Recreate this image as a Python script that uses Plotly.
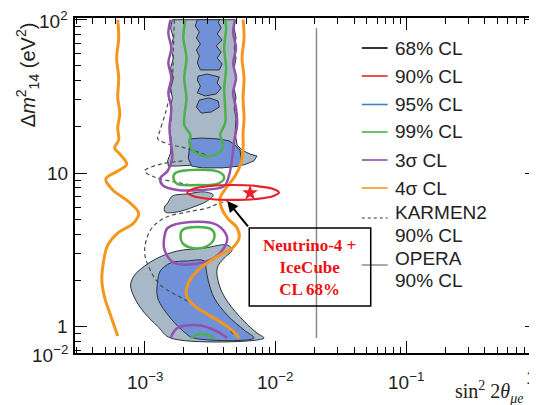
import math
import plotly.graph_objects as go

# ---------------- data (sin^2 2theta_mue , dm^2_14 [eV^2]) ----------------
grey_upper_x = [1.63e-3, 1.58e-3, 1.66e-3, 1.58e-3, 1.66e-3, 1.58e-3, 1.66e-3, 1.58e-3, 1.63e-3, 1.58e-3,
                1.60e-3, 1.55e-3, 1.60e-3, 1.58e-3, 1.50e-3, 1.52e-3,
                1.78e-3, 2.53e-3, 3.59e-3, 4.67e-3, 5.76e-3,
                6.86e-3, 7.23e-3, 6.40e-3, 5.56e-3, 5.10e-3,
                4.92e-3, 5.00e-3, 4.84e-3, 5.00e-3, 4.84e-3, 5.00e-3, 4.84e-3, 5.00e-3, 4.84e-3, 5.00e-3, 4.84e-3, 4.92e-3]
grey_upper_y = [100, 88.3, 76.0, 65.3, 56.3, 48.4, 41.7, 35.8, 30.9, 26.5,
                22.8, 19.7, 16.2, 13.5, 12.0, 11.1,
                11.1, 11.3, 11.3, 11.1, 11.3,
                12.0, 12.9, 13.3, 14.1, 15.2,
                18.2, 22.8, 26.5, 30.9, 35.8, 41.7, 48.4, 56.3, 65.3, 76.0, 88.3, 100]

grey_blob_x = [1.50e-3, 1.63e-3, 2.12e-3, 2.86e-3, 3.35e-3, 3.01e-3, 2.36e-3, 1.78e-3, 1.44e-3, 1.42e-3]
grey_blob_y = [6.37, 7.08, 7.30, 7.53, 7.19, 6.57, 6.00, 5.57, 5.57, 6.00]

grey_lower_x = [1.58e-3, 1.26e-3, 1.00e-3, 8.39e-4, 7.82e-4, 8.39e-4, 1.00e-3, 1.26e-3, 1.78e-3, 2.86e-3,
                4.28e-3, 4.67e-3, 4.06e-3, 3.59e-3, 3.72e-3, 4.28e-3, 5.76e-3, 7.23e-3, 8.18e-3]
grey_lower_y = [0.839, 1.0, 1.22, 1.53, 1.86, 2.16, 2.47, 2.79, 3.10, 3.24,
                3.39, 3.15, 2.79, 2.40, 1.86, 1.46, 1.08, 0.904, 0.839]

blue_top_x = [2.53e-3, 2.44e-3, 2.62e-3, 2.49e-3, 2.67e-3, 2.49e-3, 2.62e-3, 2.53e-3, 2.67e-3,
              3.72e-3, 3.92e-3, 3.59e-3, 3.85e-3, 3.53e-3, 3.92e-3, 3.59e-3, 3.85e-3, 3.65e-3, 3.78e-3]
blue_top_y = [100, 91.0, 83.1, 76.0, 69.4, 63.4, 58.0, 52.2, 47.0,
              47.0, 51.4, 56.3, 61.5, 67.4, 73.7, 80.7, 88.3, 96.6, 100]

blue_mid_x = [2.57e-3, 3.01e-3, 3.72e-3, 3.59e-3, 3.85e-3, 3.53e-3, 2.91e-3, 2.53e-3, 2.67e-3, 2.53e-3]
blue_mid_y = [42.9, 44.2, 42.3, 38.6, 35.8, 32.8, 31.8, 33.3, 36.9, 40.4]

blue_low_piece_x = [2.62e-3, 3.12e-3, 3.65e-3, 3.72e-3, 3.23e-3, 2.71e-3, 2.49e-3]
blue_low_piece_y = [29.9, 30.9, 29.5, 26.9, 25.0, 24.6, 26.9]

blue_block_x = [2.20e-3, 2.76e-3, 3.59e-3, 4.43e-3, 4.92e-3, 5.37e-3, 5.46e-3, 5.37e-3, 3.92e-3, 2.76e-3, 2.28e-3, 2.16e-3, 2.20e-3]
blue_block_y = [16.7, 16.9, 16.7, 16.2, 15.2, 14.1, 12.5, 11.1, 10.8, 10.8, 11.1, 12.5, 14.6]

blue_lower_x = [1.26e-3, 1.32e-3, 1.58e-3, 2.12e-3, 2.86e-3, 2.96e-3, 3.07e-3, 3.41e-3, 4.28e-3, 5.76e-3,
                6.86e-3, 2.36e-3, 2.05e-3, 1.58e-3, 1.26e-3]
blue_lower_y = [1.98, 2.30, 2.59, 2.67, 2.67, 2.33, 1.98, 1.53, 1.185, 0.946,
                0.839, 0.839, 0.904, 1.13, 1.53]

purple_upper_x = [1.58e-3, 1.52e-3, 1.60e-3, 1.52e-3, 1.60e-3, 1.52e-3, 1.60e-3, 1.55e-3, 1.58e-3, 1.63e-3,
                  1.50e-3, 1.32e-3, 1.37e-3, 1.78e-3, 2.67e-3, 4.06e-3, 4.43e-3, 4.67e-3, 4.84e-3, 5.10e-3,
                  5.00e-3, 4.75e-3, 5.00e-3, 4.75e-3, 5.00e-3, 4.75e-3, 4.92e-3]
purple_upper_y = [100, 81.9, 65.3, 52.2, 41.7, 33.3, 26.5, 19.7, 16.2, 12.5,
                  10.3, 9.28, 8.35, 7.75, 7.75, 8.23, 9.70, 12.5, 16.2, 20.6,
                  26.5, 33.3, 41.7, 52.2, 65.3, 81.9, 100]

purple_loop_x = [1.50e-3, 2.24e-3, 3.59e-3, 4.28e-3, 3.78e-3, 2.86e-3, 1.69e-3, 1.42e-3, 1.42e-3, 1.50e-3]
purple_loop_y = [4.38, 4.79, 4.58, 3.77, 3.01, 2.63, 2.59, 3.15, 3.88, 4.38]

purple_bottom_x = [1.58e-3, 1.78e-3, 2.32e-3, 2.86e-3, 3.78e-3, 4.28e-3]
purple_bottom_y = [0.839, 0.975, 1.02, 1.0, 0.904, 0.839]

green_upper_x = [2.05e-3, 1.98e-3, 2.09e-3, 2.01e-3, 2.09e-3, 2.05e-3, 2.01e-3, 2.24e-3, 2.20e-3, 2.36e-3,
                 2.91e-3, 3.59e-3, 3.99e-3, 3.78e-3, 4.13e-3, 4.13e-3, 4.06e-3, 4.20e-3, 4.06e-3, 4.20e-3, 4.13e-3]
green_upper_y = [100, 76.0, 56.3, 41.7, 30.9, 26.5, 20.6, 17.7, 15.7, 13.9,
                 12.9, 13.3, 15.2, 17.7, 21.2, 26.5, 35.8, 48.4, 65.3, 88.3, 100]

green_loop1_x = [1.72e-3, 2.53e-3, 3.72e-3, 4.06e-3, 3.59e-3, 2.53e-3, 1.78e-3, 1.66e-3, 1.72e-3]
green_loop1_y = [10.0, 10.5, 10.15, 9.28, 8.48, 8.35, 8.48, 9.28, 10.0]

green_loop2_x = [1.95e-3, 2.53e-3, 3.29e-3, 3.41e-3, 3.01e-3, 2.32e-3, 1.95e-3, 1.88e-3, 1.95e-3]
green_loop2_y = [4.25, 4.44, 4.25, 3.77, 3.34, 3.24, 3.49, 3.88, 4.25]

green_bottom_x = [2.24e-3, 2.67e-3, 3.18e-3, 3.41e-3]
green_bottom_y = [0.839, 0.891, 0.865, 0.839]

orange_left_x = [6.23e-4, 6.34e-4, 6.12e-4, 6.34e-4, 6.23e-4, 6.46e-4, 6.23e-4, 6.34e-4, 5.91e-4, 6.57e-4,
                 7.30e-4, 6.23e-4, 5.05e-4, 5.71e-4, 7.43e-4, 9.00e-4, 8.25e-4, 6.23e-4, 5.23e-4, 4.88e-4,
                 4.71e-4, 4.96e-4, 5.42e-4, 6.23e-4]
orange_left_y = [100, 76.0, 56.3, 41.7, 30.9, 24.6, 19.7, 16.4, 14.6, 13.1,
                 11.4, 10.3, 9.14, 7.75, 6.57, 5.48, 4.72, 4.06, 3.39, 2.71,
                 2.00, 1.53, 1.22, 0.865]

orange_right_x = [5.66e-3, 5.76e-3, 5.56e-3, 5.76e-3, 5.66e-3, 5.76e-3, 5.66e-3, 5.66e-3, 5.46e-3, 4.92e-3,
                  4.20e-3, 3.78e-3, 3.85e-3, 4.28e-3, 5.10e-3, 5.28e-3, 4.67e-3, 3.78e-3, 3.01e-3, 2.53e-3,
                  2.16e-3, 2.09e-3, 2.36e-3, 3.01e-3, 3.92e-3, 4.92e-3, 5.28e-3]
orange_right_y = [100, 76.0, 56.3, 41.7, 30.9, 22.8, 18.2, 14.6, 11.6, 9.56,
                  7.98, 6.87, 6.00, 5.09, 4.38, 3.77, 3.24, 2.92, 2.59, 2.30,
                  1.92, 1.60, 1.38, 1.20, 1.05, 0.904, 0.839]

karmen_upper_x = [1.69e-3, 1.66e-3, 1.63e-3, 1.50e-3, 1.42e-3, 1.30e-3, 1.26e-3, 1.50e-3, 2.01e-3, 3.01e-3]
karmen_upper_y = [100, 65.3, 41.7, 28.0, 23.5, 18.5, 16.7, 15.5, 14.6, 13.1]
karmen_mid_x = [1.95e-3, 1.26e-3, 1.00e-3, 1.19e-3, 1.69e-3, 2.32e-3]
karmen_mid_y = [12.0, 11.3, 10.3, 9.42, 8.74, 8.35]
karmen_lower_x = [4.51e-3, 3.59e-3, 3.01e-3, 2.12e-3, 1.42e-3, 1.11e-3, 1.00e-3, 1.07e-3, 1.32e-3, 2.12e-3,
                  3.01e-3, 4.06e-3, 4.84e-3]
karmen_lower_y = [6.67, 6.28, 5.91, 5.57, 5.09, 4.25, 3.10, 2.47, 1.86, 1.46,
                  1.185, 1.02, 0.878]

opera_x = [2.06e-2, 2.06e-2]
opera_y = [88.0, 0.839]

n4_ellipse_x = [1.064e-2, 9.54e-3, 7.11e-3, 4.75e-3, 3.18e-3, 2.37e-3, 2.12e-3, 2.37e-3, 3.18e-3, 4.75e-3,
                7.11e-3, 9.54e-3, 1.064e-2]
n4_ellipse_y = [7.46, 7.89, 8.23, 8.35, 8.23, 7.89, 7.46, 7.05, 6.77, 6.67,
                6.77, 7.05, 7.46]
best_fit_x = [6.4e-3]
best_fit_y = [7.41]
arrow_tip = (4.28e-3, 6.57)

x_tick_vals = [1e-3, 1e-2, 1e-1, 1]
x_tick_text = ["10<sup>\u22123</sup>", "10<sup>\u22122</sup>", "10<sup>\u22121</sup>", "1"]
y_tick_vals = [100, 10, 1]
y_tick_text = ["10<sup>2</sup>", "10", "1"]

legend_labels = ["68% CL", "90% CL", "95% CL", "99% CL", "3\u03c3 CL", "4\u03c3 CL"]

# ---------------- styles ----------------
GREY = "#a8b8c6"
BLUE = "#7091d8"
OUTL = "#2a333c"
ORANGE = "#f5961e"
PURPLE = "#9650ad"
GREEN = "#4db04a"
RED = "#e8202a"
legend_colors = ["#000000", "#e02a2a", "#3f80c2", "#4db04a", "#9650ad", "#f5961e"]

fig = go.Figure()


def poly(x, y, fill, shape="linear"):
    fig.add_trace(go.Scatter(x=x + x[:1], y=y + y[:1], mode="lines", fill="toself",
                             fillcolor=fill, line=dict(color=OUTL, width=1, shape=shape),
                             hoverinfo="skip", showlegend=False))


def line(x, y, color, width, dash="solid", shape="spline"):
    fig.add_trace(go.Scatter(x=x, y=y, mode="lines",
                             line=dict(color=color, width=width, dash=dash, shape=shape),
                             hoverinfo="skip", showlegend=False))


poly(grey_upper_x, grey_upper_y, GREY)
poly(grey_blob_x, grey_blob_y, GREY, "spline")
poly(grey_lower_x, grey_lower_y, GREY, "spline")
poly(blue_top_x, blue_top_y, BLUE)
poly(blue_mid_x, blue_mid_y, BLUE)
poly(blue_low_piece_x, blue_low_piece_y, BLUE)
poly(blue_block_x, blue_block_y, BLUE)
poly(blue_lower_x, blue_lower_y, BLUE, "spline")

line(opera_x, opera_y, "#8c8c8c", 1.5, shape="linear")

for kx, ky in [(karmen_upper_x, karmen_upper_y), (karmen_mid_x, karmen_mid_y), (karmen_lower_x, karmen_lower_y)]:
    line(kx, ky, "#4a4f55", 1.2, dash="4px,3px")

line(green_upper_x, green_upper_y, GREEN, 2.5)
line(green_loop1_x, green_loop1_y, GREEN, 2.5)
line(green_loop2_x, green_loop2_y, GREEN, 2.5)
line(green_bottom_x, green_bottom_y, GREEN, 2.5)
line(purple_upper_x, purple_upper_y, PURPLE, 2.5)
line(purple_loop_x, purple_loop_y, PURPLE, 2.5)
line(purple_bottom_x, purple_bottom_y, PURPLE, 2.5)
line(orange_left_x, orange_left_y, ORANGE, 3)
line(orange_right_x, orange_right_y, ORANGE, 3)
line(n4_ellipse_x, n4_ellipse_y, RED, 2.2)
fig.add_trace(go.Scatter(x=best_fit_x, y=best_fit_y, mode="markers",
                         marker=dict(symbol="star", size=12, color=RED),
                         hoverinfo="skip", showlegend=False))

# ---------------- layout ----------------
L, R, T, B = 67, 6, 10, 60
W, H = 537, 405
PW, PH = W - L - R, H - T - B


def px(xp):
    return (xp - L) / PW


def py(yp):
    return (H - B - yp) / PH


minor_x = [m * 10 ** e for e in range(-4, 0) for m in range(2, 10)]
minor_y = [m * 10 ** e for e in range(-1, 2) for m in range(2, 10)]

axis_common = dict(type="log", showgrid=False, zeroline=False, showline=True, linecolor="black",
                   linewidth=2, mirror="allticks", ticks="inside", ticklen=12, tickwidth=1.2,
                   tickcolor="black", showticklabels=False)
fig.update_layout(
    width=W, height=H, margin=dict(l=L, r=R, t=T, b=B),
    paper_bgcolor="white", plot_bgcolor="white",
    xaxis=dict(range=[-3.532, 0.0], tickmode="array", tickvals=x_tick_vals,
               minor=dict(tickmode="array", tickvals=minor_x, ticks="inside", ticklen=6,
                          tickcolor="black", tickwidth=1), **axis_common),
    yaxis=dict(range=[-0.174, 2.011], tickmode="array", tickvals=y_tick_vals,
               minor=dict(tickmode="array", tickvals=minor_y, ticks="inside", ticklen=6,
                          tickcolor="black", tickwidth=1), **axis_common),
)

SANS = "Liberation Sans, Arial, sans-serif"
SERIF = "Liberation Serif, Times New Roman, serif"
ann = []
# x tick labels
for v, t in zip(x_tick_vals, x_tick_text):
    if v == 1:
        ann.append(dict(x=px(525), xref="paper", y=py(369), yref="paper", text=t, showarrow=False,
                        font=dict(family=SANS, size=19, color="#222"), xanchor="center", yanchor="middle"))
    else:
        ann.append(dict(x=math.log10(v), xref="x", y=py(373), yref="paper", text=t, showarrow=False,
                        font=dict(family=SANS, size=19, color="#222"), xanchor="center", yanchor="middle"))
# y tick labels
for v, t in zip(y_tick_vals, y_tick_text):
    ann.append(dict(x=px(62), xref="paper", y=math.log10(v), yref="y", text=t, showarrow=False,
                    font=dict(family=SANS, size=19, color="#222"), xanchor="right", yanchor="middle"))
ann.append(dict(x=px(62), xref="paper", y=py(346), yref="paper", text="10<sup>\u22122</sup>",
                showarrow=False, font=dict(family=SANS, size=19, color="#222"),
                xanchor="right", yanchor="middle"))
# axis titles
ann.append(dict(x=px(19), xref="paper", y=py(67), yref="paper",
                text="\u0394<i>m</i><sup>2</sup><sub>14</sub> (eV<sup>2</sup>)", textangle=-90,
                showarrow=False, font=dict(family=SANS, size=20, color="#222"),
                xanchor="center", yanchor="middle"))
ann.append(dict(x=px(447), xref="paper", y=py(384), yref="paper",
                text="sin<sup>2</sup> 2<i>\u03b8</i><sub><i>\u03bce</i></sub>",
                showarrow=False, font=dict(family=SERIF, size=20, color="#222"),
                xanchor="left", yanchor="middle"))
# legend
shapes = []
rows = [40, 68, 96.5, 124, 152, 180]
for lab, col, r in zip(legend_labels, legend_colors, rows):
    shapes.append(dict(type="line", xref="paper", yref="paper", x0=px(355), x1=px(381), y0=py(r), y1=py(r),
                       line=dict(color=col, width=1.6)))
    ann.append(dict(x=px(386), xref="paper", y=py(r), yref="paper", text=lab, showarrow=False,
                    font=dict(family=SANS, size=19, color="#222"), xanchor="left", yanchor="middle"))
shapes.append(dict(type="line", xref="paper", yref="paper", x0=px(355), x1=px(381), y0=py(210), y1=py(210),
                   line=dict(color="#333", width=1.2, dash="dot")))
shapes.append(dict(type="line", xref="paper", yref="paper", x0=px(355), x1=px(381), y0=py(257), y1=py(257),
                   line=dict(color="#8c8c8c", width=1.5)))
for txt, r in [("KARMEN2", 204), ("90% CL", 227), ("OPERA", 250), ("90% CL", 272)]:
    ann.append(dict(x=px(386), xref="paper", y=py(r), yref="paper", text=txt, showarrow=False,
                    font=dict(family=SANS, size=19, color="#222"), xanchor="left", yanchor="middle"))
# Neutrino-4 box
shapes.append(dict(type="rect", xref="paper", yref="paper", x0=px(242), x1=px(364), y0=py(298), y1=py(220),
                   line=dict(color="black", width=1.5), fillcolor="rgba(0,0,0,0)"))
ann.append(dict(x=px(303), xref="paper", y=py(259), yref="paper",
                text="<b>Neutrino-4 +<br>IceCube<br>CL 68%</b>", showarrow=False,
                font=dict(family=SERIF, size=17, color="#ee1111"), align="center",
                xanchor="center", yanchor="middle"))
ann.append(dict(x=math.log10(arrow_tip[0]), xref="x", y=math.log10(arrow_tip[1]), yref="y",
                ax=22, ay=27, text="", showarrow=True, arrowhead=2, arrowsize=1.1, arrowwidth=2,
                arrowcolor="black"))
fig.update_layout(annotations=ann, shapes=shapes)

fig.write_html("out.html")
